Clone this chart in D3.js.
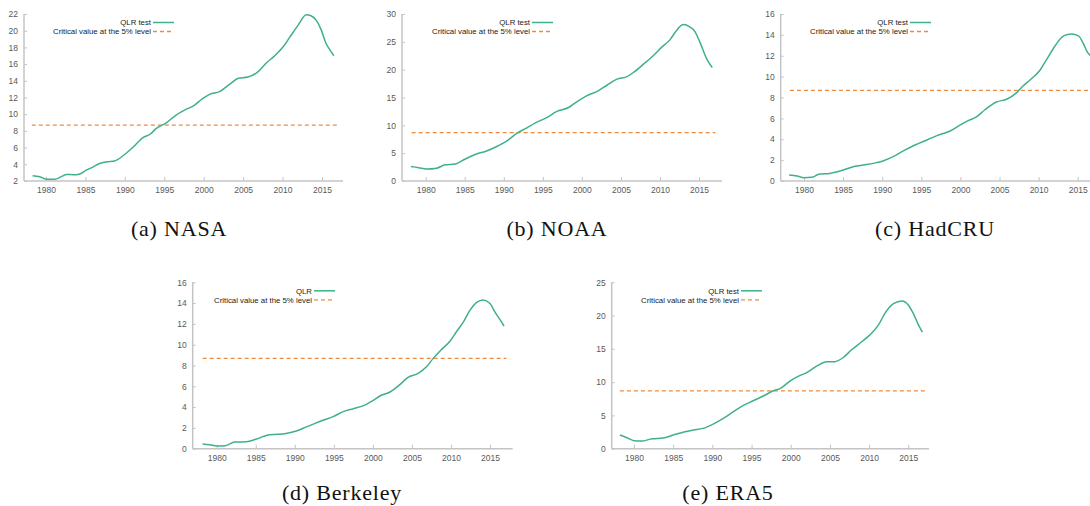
<!DOCTYPE html>
<html>
<head>
<meta charset="utf-8">
<script src="https://cdn.jsdelivr.net/npm/d3@7"></script>
<style>
  html, body { margin: 0; padding: 0; background: #fff; }
  svg { display: block; }
  .tick text { font-family: "Liberation Sans Narrow", "Liberation Sans", sans-serif; font-size: 8.5px; fill: #595959; }
  .legend text { font-family: "Liberation Sans Narrow", "Liberation Sans", sans-serif; font-size: 7.8px; fill: #1a1a1a; }
  .caption { font-family: "Liberation Serif", serif; font-size: 22px; fill: #111; letter-spacing: 0.8px; }
</style>
</head>
<body>
<svg id="chart" width="1090" height="506"></svg>
<script>
// ---------------- data ----------------
const criticalValue = 8.68;
const criticalSpan = [1978.2, 2017.1];
const xTickYears = [1980, 1985, 1990, 1995, 2000, 2005, 2010, 2015];

const nasaYears = [1978.3,1979.2,1980.1,1981.1,1982.0,1982.6,1983.5,1984.2,1985.1,1986.0,1986.8,1987.7,1988.7,1990.0,1991.1,1992.3,1993.2,1994.0,1995.3,1996.5,1997.8,1998.7,1999.9,2000.8,2002.0,2003.3,2004.4,2005.6,2006.9,2007.9,2009.0,2010.1,2010.9,2012.0,2013.0,2013.6,2014.3,2014.9,2015.5,2016.0,2016.5];
const nasaQLR   = [2.64,2.52,2.2,2.2,2.55,2.78,2.75,2.82,3.3,3.7,4.1,4.3,4.4,5.2,6.1,7.2,7.6,8.3,9.0,9.9,10.6,11.0,11.9,12.4,12.7,13.6,14.3,14.45,15.1,16.1,17.0,18.1,19.2,20.7,21.9,21.8,21.2,20.1,18.5,17.7,17.0];

const noaaYears = [1978.1,1979.1,1980.1,1981.4,1982.5,1983.8,1985.0,1986.5,1987.8,1989.1,1990.4,1991.7,1992.9,1994.0,1995.5,1996.8,1998.3,1999.1,2000.6,2002.1,2003.2,2004.5,2005.7,2006.6,2007.9,2009.2,2010.2,2011.3,2012.1,2013.0,2013.8,2014.5,2015.1,2016.0,2016.7];
const noaaQLR   = [2.6,2.4,2.15,2.3,2.9,3.05,3.9,4.85,5.4,6.2,7.2,8.6,9.5,10.4,11.4,12.5,13.2,14.0,15.3,16.2,17.2,18.3,18.7,19.5,21.0,22.6,24.0,25.4,27.0,28.1,27.7,26.8,25.0,21.9,20.4];

const hadYears = [1978.1,1979.1,1980.0,1981.0,1982.0,1983.3,1985.0,1986.7,1988.0,1989.3,1990.1,1991.4,1992.7,1994.2,1995.7,1997.0,1998.7,2000.0,2001.0,2002.1,2003.1,2004.6,2005.9,2007.2,2008.0,2008.9,2010.2,2011.0,2012.1,2013.2,2014.2,2015.1,2015.7,2016.2,2016.8];
const hadQLR   = [0.58,0.48,0.32,0.35,0.67,0.73,1.05,1.44,1.57,1.76,1.92,2.33,2.88,3.45,3.93,4.35,4.79,5.37,5.78,6.17,6.8,7.57,7.83,8.47,9.1,9.68,10.64,11.6,12.94,13.9,14.08,13.9,13.2,12.4,11.9];

const berkYears = [1978.2,1979.1,1980.0,1981.1,1982.3,1983.8,1985.1,1986.8,1987.9,1988.7,1990.2,1991.5,1992.6,1993.7,1994.9,1996.2,1997.5,1998.8,2000.1,2000.9,2002.2,2003.5,2004.5,2005.8,2006.9,2007.7,2008.8,2009.9,2010.7,2011.6,2012.4,2013.3,2014.1,2015.0,2015.6,2016.3,2016.8];
const berkQLR   = [0.45,0.38,0.26,0.29,0.64,0.67,0.93,1.35,1.38,1.44,1.7,2.1,2.44,2.76,3.08,3.56,3.85,4.14,4.68,5.07,5.45,6.19,6.86,7.25,7.9,8.66,9.55,10.36,11.25,12.2,13.27,14.07,14.3,13.97,13.18,12.38,11.8];

const eraYears = [1978.2,1979.1,1980.0,1981.0,1982.3,1983.7,1985.0,1986.5,1987.6,1988.8,1990.1,1991.4,1992.7,1993.9,1995.2,1996.3,1997.8,1998.8,1999.9,2001.0,2002.0,2003.3,2004.6,2005.6,2006.7,2007.8,2009.1,2010.1,2011.2,2012.0,2013.1,2014.2,2015.0,2015.6,2016.3,2016.8];
const eraQLR   = [2.05,1.65,1.2,1.15,1.5,1.6,2.05,2.55,2.8,3.05,3.7,4.55,5.56,6.46,7.2,7.8,8.7,9.15,10.17,10.9,11.4,12.4,13.08,13.08,13.7,14.9,16.1,17.1,18.6,20.3,21.8,22.2,21.6,20.4,18.6,17.5];

const panels = [
  { caption: "(a) NASA",     label: "QLR test", years: nasaYears, values: nasaQLR, yDomain: [2, 22],  yTicks: [2,4,6,8,10,12,14,16,18,20,22] },
  { caption: "(b) NOAA",     label: "QLR test", years: noaaYears, values: noaaQLR, yDomain: [0, 30],  yTicks: [0,5,10,15,20,25,30] },
  { caption: "(c) HadCRU",   label: "QLR test", years: hadYears,  values: hadQLR,  yDomain: [0, 16],  yTicks: [0,2,4,6,8,10,12,14,16] },
  { caption: "(d) Berkeley", label: "QLR",      years: berkYears, values: berkQLR, yDomain: [0, 16],  yTicks: [0,2,4,6,8,10,12,14,16] },
  { caption: "(e) ERA5",     label: "QLR test", years: eraYears,  values: eraQLR,  yDomain: [0, 25],  yTicks: [0,5,10,15,20,25] }
];

// ---------------- layout ----------------
const layout = [
  { axisX: 24,    x1980: 46,    x2015: 322,    right: 343,  top: 14,    bottom: 181,   legX: 153, capX: 179, capY: 236 },
  { axisX: 402,   x1980: 425.7, x2015: 699,    right: 722,  top: 14,    bottom: 181,   legX: 532, capX: 557, capY: 236 },
  { axisX: 780.7, x1980: 804,   x2015: 1077.7, right: 1102, top: 14,    bottom: 181,   legX: 910, capX: 935, capY: 236 },
  { axisX: 192.7, x1980: 216.7, x2015: 490,    right: 512.7,top: 282.3, bottom: 448.7, legX: 314, capX: 342, capY: 500 },
  { axisX: 611.7, x1980: 634,   x2015: 908.3,  right: 929,  top: 282.3, bottom: 448.7, legX: 741, capX: 728, capY: 500 }
];

const lineColor = "#3fb08a";
const critColor = "#ef8a3e";
const axisColor = "#c4c4c4";

const svg = d3.select("#chart");

panels.forEach((p, i) => {
  const L = layout[i];
  const x = d3.scaleLinear().domain([1980, 2015]).range([L.x1980, L.x2015]);
  const y = d3.scaleLinear().domain(p.yDomain).range([L.bottom, L.top]);
  const g = svg.append("g");

  // y axis
  const yAxis = d3.axisLeft(y).tickValues(p.yTicks).tickSizeInner(-3).tickSizeOuter(0).tickPadding(6);
  const ga = g.append("g").attr("transform", `translate(${L.axisX},0)`).call(yAxis);
  ga.select(".domain").remove();
  ga.selectAll(".tick line").attr("stroke", axisColor).attr("stroke-width", 1);
  g.append("line").attr("x1", L.axisX).attr("x2", L.axisX).attr("y1", L.top).attr("y2", L.bottom)
    .attr("stroke", axisColor).attr("stroke-width", 1.5);

  // x axis
  const xAxis = d3.axisBottom(x).tickValues(xTickYears).tickFormat(d3.format("d")).tickSizeInner(-4).tickSizeOuter(0).tickPadding(6);
  const gx = g.append("g").attr("transform", `translate(0,${L.bottom})`).call(xAxis);
  gx.select(".domain").remove();
  gx.selectAll(".tick line").attr("stroke", axisColor).attr("stroke-width", 1);
  g.append("line").attr("x1", L.axisX).attr("x2", L.right).attr("y1", L.bottom).attr("y2", L.bottom)
    .attr("stroke", axisColor).attr("stroke-width", 1.5);

  // critical value
  g.append("line")
    .attr("x1", x(criticalSpan[0])).attr("x2", x(criticalSpan[1]))
    .attr("y1", y(criticalValue)).attr("y2", y(criticalValue))
    .attr("stroke", critColor).attr("stroke-width", 1.3).attr("stroke-dasharray", "4,3");

  // QLR line
  const pts = p.years.map((yr, k) => [yr, p.values[k]]);
  const line = d3.line().x(d => x(d[0])).y(d => y(d[1])).curve(d3.curveMonotoneX);
  g.append("path").datum(pts).attr("d", line).attr("fill", "none")
    .attr("stroke", lineColor).attr("stroke-width", 1.5);

  // legend
  const lg = g.append("g").attr("class", "legend");
  const ly1 = L.top + 8.5, ly2 = L.top + 17.5;
  lg.append("text").attr("x", L.legX - 2).attr("y", ly1).attr("dy", "0.35em").attr("text-anchor", "end").text(p.label);
  lg.append("line").attr("x1", L.legX).attr("x2", L.legX + 21).attr("y1", ly1).attr("y2", ly1)
    .attr("stroke", lineColor).attr("stroke-width", 1.5);
  lg.append("text").attr("x", L.legX - 2).attr("y", ly2).attr("dy", "0.35em").attr("text-anchor", "end").text("Critical value at the 5% level");
  lg.append("line").attr("x1", L.legX).attr("x2", L.legX + 21).attr("y1", ly2).attr("y2", ly2)
    .attr("stroke", critColor).attr("stroke-width", 1.3).attr("stroke-dasharray", "4,3");

  // caption
  svg.append("text").attr("class", "caption").attr("x", L.capX).attr("y", L.capY)
    .attr("text-anchor", "middle").text(p.caption);
});
</script>
</body>
</html>
